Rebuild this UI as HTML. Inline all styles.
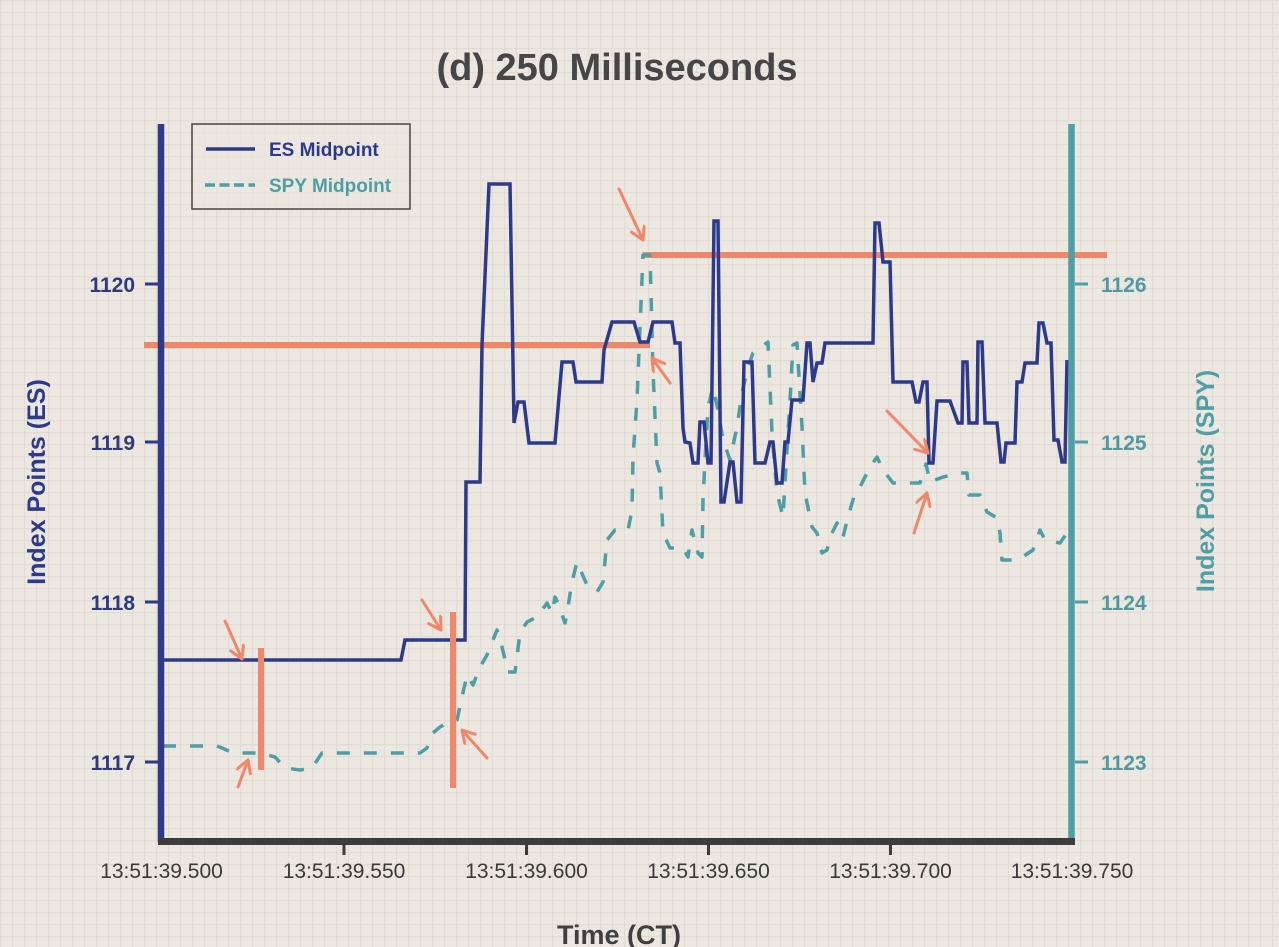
<!DOCTYPE html>
<html>
<head>
<meta charset="utf-8">
<style>
  html, body { margin:0; padding:0; }
  body { width:1279px; height:947px; overflow:hidden; background:#ece7e1; }
  svg { display:block; }
  text { font-family: "Liberation Sans", "DejaVu Sans", sans-serif; }
</style>
</head>
<body>
<svg width="1279" height="947" viewBox="0 0 1279 947" xmlns="http://www.w3.org/2000/svg">
  <defs>
    <pattern id="grid" width="12" height="12" patternUnits="userSpaceOnUse">
      <rect width="12" height="12" fill="#ece7e1"/>
      <path d="M0,0.5 H12 M0.5,0 V12" stroke="#e3dcd4" stroke-width="1.2" fill="none"/>
    </pattern>
    <marker id="ah" markerWidth="18" markerHeight="18" refX="14" refY="8" orient="auto" markerUnits="userSpaceOnUse">
      <path d="M2,1 L14,8 L2,15" fill="none" stroke="#f0876b" stroke-width="3" stroke-linecap="round" stroke-linejoin="round"/>
    </marker>
  </defs>

  <rect x="0" y="0" width="1279" height="947" fill="url(#grid)"/>

  <!-- Title -->
  <text x="617" y="80" text-anchor="middle" font-size="38" font-weight="bold" fill="#464646">(d) 250 Milliseconds</text>

  <!-- Coral horizontal annotation lines -->
  <line x1="144" y1="345" x2="650" y2="345" stroke="#f0876b" stroke-width="6"/>
  <line x1="643" y1="255" x2="1107" y2="255" stroke="#f0876b" stroke-width="6"/>

  <!-- SPY series (dashed) -->
  <path d="M163,746 L217,746 L222,748 L233,753 L260,753 L275,757 L285,768 L300,770 L312,768 L322,753 L420,753 L427,748 L433,733 L440,727 L447,723 L457,720 L462,697 L467,675 L473,685 L480,667 L487,655 L497,630 L502,647 L508,672 L515,672 L520,633 L527,622 L537,617 L547,603 L552,613 L555,597 L558,603 L565,623 L567,613 L572,582 L577,562 L587,585 L597,592 L603,582 L607,540 L615,530 L628,530 L632,510 L633,457 L637,400 L643,255 L650,255 L653,370 L657,463 L660,473 L663,533 L670,548 L683,548 L688,557 L692,530 L698,553 L702,557 L703,500 L705,460 L708,407 L713,387 L718,410 L723,440 L730,460 L737,427 L742,393 L748,367 L753,353 L760,348 L768,342 L772,433 L777,493 L783,517 L785,483 L790,400 L793,345 L797,343 L802,427 L805,493 L812,527 L817,533 L822,553 L827,550 L832,533 L837,523 L843,537 L848,517 L855,493 L860,487 L870,467 L877,457 L883,470 L893,483 L920,483 L926,464 L930,482 L943,477 L960,473 L967,473 L969,495 L980,495 L987,512 L997,518 L1000,533 L1002,560 L1018,560 L1033,550 L1040,530 L1045,540 L1060,543 L1067,533"
        fill="none" stroke="#4f9ea5" stroke-width="3.5" stroke-dasharray="13 14" stroke-linejoin="round"/>

  <!-- ES series (solid) -->
  <path d="M163,660 L401,660 L405,640 L465,640 L466,482 L480,482 L482,345 L489,184 L510,184 L514,423 L518,402 L524,402 L529,443 L555,443 L562,362 L573,362 L576,382 L602,382 L604,350 L612,322 L634,322 L640,342 L648,342 L653,322 L672,322 L675,343 L680,343 L683,428 L685,442 L690,443 L693,463 L698,463 L700,422 L704,422 L708,463 L711,463 L714,221 L718,221 L721,502 L724,502 L730,462 L733,462 L737,502 L741,502 L744,362 L752,362 L755,463 L765,463 L770,442 L773,442 L777,483 L782,483 L785,442 L788,442 L792,400 L803,400 L807,343 L810,343 L813,382 L817,363 L822,363 L825,343 L873,343 L875,223 L879,223 L883,262 L890,262 L893,382 L912,382 L916,402 L919,402 L923,382 L927,382 L929,463 L933,463 L937,401 L950,401 L958,423 L962,423 L963,362 L967,362 L969,423 L977,423 L978,342 L982,342 L985,423 L997,423 L1001,462 L1004,462 L1006,443 L1015,443 L1017,382 L1022,382 L1025,363 L1037,363 L1039,323 L1043,323 L1047,343 L1051,343 L1054,440 L1058,440 L1062,462 L1065,462 L1067,360"
        fill="none" stroke="#2d3a8c" stroke-width="3.5" stroke-linejoin="miter"/>

  <!-- Coral vertical annotation lines -->
  <line x1="261" y1="648" x2="261" y2="770" stroke="#f0876b" stroke-width="6"/>
  <line x1="453" y1="612" x2="453" y2="788" stroke="#f0876b" stroke-width="6"/>

  <!-- Arrows -->
  <g stroke="#f0876b" stroke-width="3" stroke-linecap="round" fill="none">
    <line x1="225" y1="621" x2="242" y2="659" marker-end="url(#ah)"/>
    <line x1="238" y1="787" x2="248" y2="760" marker-end="url(#ah)"/>
    <line x1="422" y1="600" x2="441" y2="630" marker-end="url(#ah)"/>
    <line x1="487" y1="758" x2="462" y2="730" marker-end="url(#ah)"/>
    <line x1="619" y1="189" x2="643" y2="240" marker-end="url(#ah)"/>
    <line x1="670" y1="383" x2="652" y2="358" marker-end="url(#ah)"/>
    <line x1="887" y1="411" x2="928" y2="453" marker-end="url(#ah)"/>
    <line x1="914" y1="533" x2="927" y2="493" marker-end="url(#ah)"/>
  </g>

  <!-- Axes -->
  <line x1="161" y1="124" x2="161" y2="842" stroke="#2d3a8c" stroke-width="6.5"/>
  <line x1="1071.5" y1="124" x2="1071.5" y2="842" stroke="#4f9ea5" stroke-width="6.5"/>
  <line x1="158" y1="841.5" x2="1075" y2="841.5" stroke="#3c3c3c" stroke-width="7"/>

  <!-- Left ticks -->
  <g stroke="#2d3a8c" stroke-width="3">
    <line x1="145" y1="284" x2="158" y2="284"/>
    <line x1="145" y1="442" x2="158" y2="442"/>
    <line x1="145" y1="602" x2="158" y2="602"/>
    <line x1="145" y1="762" x2="158" y2="762"/>
  </g>
  <g font-size="21" font-weight="bold" fill="#2d3a7c" text-anchor="end">
    <text x="135" y="292">1120</text>
    <text x="135" y="450">1119</text>
    <text x="135" y="610">1118</text>
    <text x="135" y="770">1117</text>
  </g>

  <!-- Right ticks -->
  <g stroke="#4f9ea5" stroke-width="3">
    <line x1="1075" y1="284" x2="1088" y2="284"/>
    <line x1="1075" y1="442" x2="1088" y2="442"/>
    <line x1="1075" y1="602" x2="1088" y2="602"/>
    <line x1="1075" y1="762" x2="1088" y2="762"/>
  </g>
  <g font-size="21" font-weight="bold" fill="#4f9aa2" text-anchor="start">
    <text x="1101" y="292">1126</text>
    <text x="1101" y="450">1125</text>
    <text x="1101" y="610">1124</text>
    <text x="1101" y="770">1123</text>
  </g>

  <!-- Bottom ticks -->
  <g stroke="#3c3c3c" stroke-width="3">
    <line x1="344" y1="845" x2="344" y2="855"/>
    <line x1="526.5" y1="845" x2="526.5" y2="855"/>
    <line x1="708.5" y1="845" x2="708.5" y2="855"/>
    <line x1="890.5" y1="845" x2="890.5" y2="855"/>
  </g>
  <g font-size="21" fill="#3a3a3a" text-anchor="middle">
    <text x="161.5" y="878">13:51:39.500</text>
    <text x="344" y="878">13:51:39.550</text>
    <text x="526.5" y="878">13:51:39.600</text>
    <text x="708.5" y="878">13:51:39.650</text>
    <text x="890.5" y="878">13:51:39.700</text>
    <text x="1072" y="878">13:51:39.750</text>
  </g>

  <!-- Axis labels -->
  <text x="619" y="944" text-anchor="middle" font-size="27" font-weight="bold" fill="#3f3f3f">Time (CT)</text>
  <text transform="translate(45,482) rotate(-90)" text-anchor="middle" font-size="25" font-weight="bold" fill="#2d3a8c">Index Points (ES)</text>
  <text transform="translate(1214,481) rotate(-90)" text-anchor="middle" font-size="25" font-weight="bold" fill="#4f9ea5">Index Points (SPY)</text>

  <!-- Legend -->
  <rect x="192" y="124" width="218" height="85" fill="#ece7e1" fill-opacity="0.6" stroke="#4a4340" stroke-width="1.5"/>
  <line x1="206" y1="149" x2="255" y2="149" stroke="#2d3a8c" stroke-width="3.5"/>
  <text x="269" y="156" font-size="19" font-weight="bold" fill="#2d3a8c">ES Midpoint</text>
  <line x1="205" y1="185" x2="255" y2="185" stroke="#4f9ea5" stroke-width="3.5" stroke-dasharray="10 4.5"/>
  <text x="269" y="192" font-size="19" font-weight="bold" fill="#4f9ea5">SPY Midpoint</text>
</svg>
</body>
</html>
